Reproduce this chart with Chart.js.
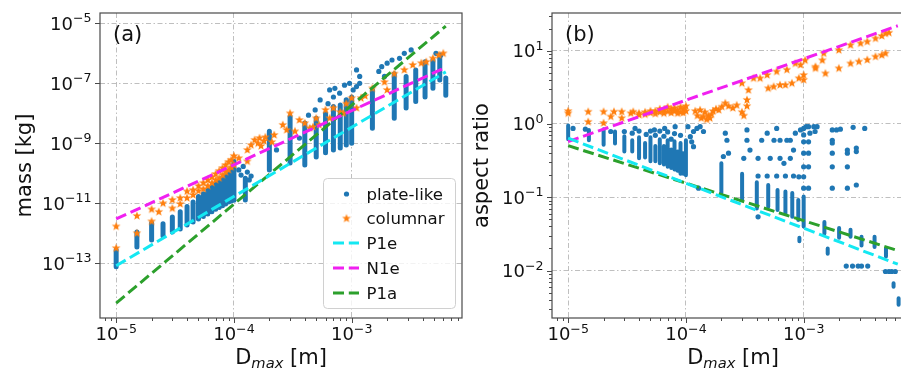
<!DOCTYPE html>
<html>
<head>
<meta charset="utf-8">
<script src="https://cdn.jsdelivr.net/npm/chart.js@4.4.1/dist/chart.umd.min.js"></script>
<style>
html, body { margin: 0; padding: 0; background: #fff; overflow: hidden; width: 901px; height: 369px; }
#wrapA { position: absolute; left: 0; top: 0; width: 470px; height: 369px; }
#wrapB { position: absolute; left: 470px; top: 0; width: 460px; height: 369px; }
</style>
</head>
<body>
<div id="wrapA"><canvas id="chartA" width="470" height="369"></canvas></div>
<div id="wrapB"><canvas id="chartB" width="460" height="369"></canvas></div>
<script>
// ---- data ----
// axis ranges (m) and tick exponents
const dRange = [7.29e-6, 8.65e-3];
const massRange = [1.5e-15, 2.21e-5];
const arRange = [2.25e-3, 32.7];
const dTickExp = [-5, -4, -3];
const massTickExp = [-13, -11, -9, -7, -5];
const arTickExp = [-2, -1, 0, 1];

// fitted relations, drawn between two end points
const lineD = [1e-5, 6.3e-3];
const p1eMass = [8.3e-14, 2.4e-7];
const n1eMass = [3.0e-12, 3.4e-7];
const p1aMass = [4.7e-15, 8.1e-6];
const p1eAR = [0.64, 0.0122];
const n1eAR = [0.575, 21.9];
const p1aAR = [0.506, 0.0187];

// plate-like, panel (a): [D, mass low, mass high] for the dense columns
const plateColsA = [
  [1e-5, 7.6e-14, 2.8e-13], [1.5e-5, 3.5e-13, 1.1e-12], [2e-5, 6.0e-13, 2.2e-12], [2.5e-5, 8.1e-13, 2.1e-12],
  [3e-5, 1.1e-12, 3.5e-12], [3.5e-5, 1.4e-12, 5.2e-12], [4e-5, 1.9e-12, 7.8e-12], [4.5e-5, 2.4e-12, 1.1e-11],
  [5e-5, 3.0e-12, 1.7e-11], [5.5e-5, 3.6e-12, 2.1e-11], [6e-5, 4.4e-12, 2.8e-11], [6.5e-5, 5.2e-12, 3.5e-11],
  [7e-5, 6.3e-12, 4.5e-11], [7.5e-5, 7.2e-12, 5.6e-11], [8e-5, 8.3e-12, 7.1e-11], [8.5e-5, 9.5e-12, 8.9e-11],
  [9e-5, 1.1e-11, 1.1e-10], [9.5e-5, 1.2e-11, 1.4e-10], [1e-4, 1.26e-11, 2.5e-10], [1.25e-4, 1.3e-11, 6.9e-11],
  [2e-4, 1.3e-10, 2.5e-9], [3e-4, 2.2e-10, 7.8e-9], [4e-4, 1.9e-10, 4.8e-9], [5e-4, 3.5e-10, 6.9e-9],
  [6e-4, 4.8e-10, 1.0e-8], [7e-4, 6.0e-10, 1.7e-8], [8e-4, 7.0e-10, 1.9e-8], [9e-4, 8.7e-10, 2.5e-8],
  [1e-3, 1.0e-9, 3.5e-8], [1.5e-3, 3.2e-9, 6.0e-8], [2.3e-3, 6.8e-9, 2.1e-7], [2.9e-3, 1.5e-8, 1.7e-7],
  [3.5e-3, 2.5e-8, 2.8e-7], [4.2e-3, 3.5e-8, 5.2e-7], [4.9e-3, 6.8e-8, 6.0e-7], [5.6e-3, 1.3e-7, 8.7e-7],
  [6.3e-3, 4.0e-8, 1.5e-7]
];
// plate-like, panel (a): single particles [D, mass]
const plateDotsA = [
  [1.1e-4, 1.3e-10], [1.15e-4, 8.7e-11], [1.2e-4, 1.7e-10], [1.3e-4, 1.1e-10], [1.35e-4, 6.0e-11], [1.4e-4, 8.1e-11],
  [2.3e-4, 6.0e-10], [3.6e-4, 1.5e-9], [4.3e-4, 8.7e-9], [4.9e-4, 1.3e-8], [5.4e-4, 2.8e-8], [6.5e-4, 6.0e-8],
  [7.2e-4, 6.8e-8], [7.9e-4, 4.7e-8], [8.7e-4, 8.7e-8], [9.6e-4, 1.0e-7], [1.03e-3, 6.0e-8], [1.1e-3, 7.8e-8],
  [1.17e-3, 1.0e-7], [9.0e-4, 2.8e-8], [6.3e-4, 2.1e-8], [7.0e-4, 3.5e-8], [1.1e-3, 2.8e-7], [1.17e-3, 1.7e-7],
  [1.7e-3, 2.5e-7], [1.8e-3, 3.6e-7], [2.0e-3, 4.7e-7], [2.2e-3, 6.0e-7], [2.55e-3, 6.8e-7], [2.8e-3, 1.0e-6],
  [3.2e-3, 1.3e-6], [1.9e-3, 1.7e-7], [5.2e-3, 1.0e-6], [5.7e-3, 8.7e-7]
];
// columnar, panel (a): [D, mass]
const columnarA = [
  [1e-5, 1.7e-12], [1e-5, 3.2e-13], [1.5e-5, 3.8e-12], [1.5e-5, 1.0e-12], [2e-5, 6.3e-12], [2e-5, 2.5e-12],
  [2.3e-5, 5.2e-12], [2.5e-5, 1.0e-11], [3e-5, 6.8e-12], [3e-5, 1.3e-11], [3.5e-5, 1.5e-11], [3.5e-5, 9.5e-12],
  [4e-5, 2.5e-11], [4e-5, 1.5e-11], [4.5e-5, 2.8e-11], [4.5e-5, 1.9e-11], [5e-5, 3.8e-11], [5e-5, 2.6e-11],
  [5.5e-5, 4.8e-11], [5.5e-5, 3.0e-11], [6e-5, 6.0e-11], [6e-5, 3.8e-11], [6.5e-5, 7.6e-11], [6.5e-5, 4.8e-11],
  [7e-5, 9.5e-11], [7e-5, 6.0e-11], [7.5e-5, 1.2e-10], [7.5e-5, 6.9e-11], [8e-5, 1.5e-10], [8e-5, 8.7e-11],
  [8.5e-5, 1.9e-10], [8.5e-5, 1.1e-10], [9e-5, 2.4e-10], [9e-5, 1.3e-10], [9.5e-5, 2.8e-10], [9.5e-5, 1.6e-10],
  [1e-4, 3.8e-10], [1e-4, 1.9e-10], [1.1e-4, 3.2e-10], [1.3e-4, 2.5e-10], [1.3e-4, 6.0e-10], [1.4e-4, 8.7e-10],
  [1.5e-4, 1.3e-9], [1.6e-4, 1.0e-9], [1.65e-4, 1.5e-9], [1.7e-4, 8.1e-10], [1.8e-4, 1.2e-9], [1.85e-4, 1.6e-9],
  [2.1e-4, 1.1e-9], [2.2e-4, 1.9e-9], [2.6e-4, 4.1e-9], [3e-4, 1.0e-8], [2.8e-4, 2.8e-9], [3.3e-4, 2.5e-9],
  [3.6e-4, 6.0e-9], [4e-4, 4.7e-9], [4.4e-4, 3.2e-9], [4.7e-4, 3.5e-9], [5e-4, 6.8e-9], [5.3e-4, 4.1e-9],
  [6e-4, 1.3e-8], [6.5e-4, 6.9e-9], [7e-4, 1.5e-8], [8e-4, 1.1e-8], [8.5e-4, 1.0e-8], [9e-4, 2.1e-8],
  [1e-3, 3.2e-8], [1.1e-3, 1.5e-8], [1.2e-3, 3.2e-8], [1.3e-3, 3.8e-8], [1.5e-3, 6.8e-8], [1.9e-3, 1.1e-7],
  [2e-3, 6.0e-8], [2.3e-3, 2.1e-7], [2.8e-3, 2.8e-7], [3.3e-3, 4.1e-7], [3.9e-3, 4.7e-7], [4.3e-3, 5.2e-7],
  [4.9e-3, 6.8e-7], [5.5e-3, 8.7e-7], [6e-3, 1.0e-6]
];

// plate-like, panel (b): [D, aspect ratio low, high]
const plateColsB = [
  [1e-5, 0.62, 0.95], [1.5e-5, 0.6, 0.83], [2e-5, 0.52, 0.85], [2.5e-5, 0.54, 0.79], [3e-5, 0.42, 0.68],
  [3.5e-5, 0.42, 0.6], [4e-5, 0.34, 0.66], [4.5e-5, 0.35, 0.55], [5e-5, 0.31, 0.66], [5.5e-5, 0.31, 0.5],
  [6e-5, 0.29, 0.62], [6.5e-5, 0.28, 0.5], [7e-5, 0.26, 0.6], [7.5e-5, 0.25, 0.45], [8e-5, 0.24, 0.58],
  [8.5e-5, 0.23, 0.42], [9e-5, 0.21, 0.55], [9.5e-5, 0.21, 0.4], [1e-4, 0.2, 0.6],
  [2e-4, 0.115, 0.29], [3e-4, 0.092, 0.21], [4e-4, 0.07, 0.16], [5e-4, 0.074, 0.147], [6e-4, 0.067, 0.126],
  [7e-4, 0.06, 0.12], [8e-4, 0.054, 0.114], [9e-4, 0.049, 0.092], [1e-3, 0.04, 0.102], [9.2e-4, 0.025, 0.028],
  [1.5e-3, 0.032, 0.046], [1.6e-3, 0.017, 0.02], [2e-3, 0.028, 0.038], [2.5e-3, 0.029, 0.036],
  [3.1e-3, 0.022, 0.029], [4e-3, 0.021, 0.029], [5e-3, 0.0155, 0.02], [5.8e-3, 0.006, 0.0067], [6.4e-3, 0.0034, 0.0042]
];
// plate-like, panel (b): single particles [D, aspect ratio]
const plateDotsB = [
  [1.1e-5, 0.87], [1.4e-5, 0.85], [2.3e-5, 0.79], [3e-5, 0.79], [3.5e-5, 0.75], [3.7e-5, 0.87], [4e-5, 0.8],
  [4.6e-5, 0.72], [5e-5, 0.8], [5.4e-5, 0.83], [5.5e-5, 0.7], [6e-5, 0.8], [6.6e-5, 0.87], [6.5e-5, 0.68],
  [7e-5, 0.78], [7.5e-5, 0.62], [8e-5, 0.74], [8.1e-5, 0.92], [9e-5, 0.7], [1.04e-4, 0.92],
  [1.09e-4, 0.67], [1.12e-4, 0.57], [1.16e-4, 0.79], [1.16e-4, 0.49],
  [1.24e-4, 0.87], [1.32e-4, 0.92], [1.41e-4, 0.79], [1.28e-4, 0.133],
  [2.08e-4, 0.36], [2.16e-4, 0.75], [2.23e-4, 0.6], [2.3e-4, 0.4], [3.1e-4, 0.34], [3.3e-4, 0.6], [3.3e-4, 0.83],
  [3.5e-4, 0.44], [4.1e-4, 0.34], [4.1e-4, 0.195], [4.1e-4, 0.054], [4.4e-4, 0.6], [4.9e-4, 0.75], [4.9e-4, 0.195],
  [5.2e-4, 0.34], [5.6e-4, 0.6], [5.9e-4, 0.195], [5.9e-4, 0.87], [6.3e-4, 0.6], [6.3e-4, 0.34], [6.8e-4, 0.29],
  [7.0e-4, 0.195], [7.2e-4, 0.6], [7.7e-4, 0.6], [7.7e-4, 0.34], [8.2e-4, 0.44], [8.2e-4, 0.195], [8.5e-4, 0.75],
  [9.4e-4, 0.83], [9.1e-4, 0.19],
  [1e-3, 0.87], [1e-3, 0.71], [1e-3, 0.57], [1e-3, 0.4], [1e-3, 0.26], [1e-3, 0.19], [1e-3, 0.133], [1.05e-3, 0.92],
  [1.1e-3, 0.92], [1.22e-3, 0.92], [1.3e-3, 0.92], [1.13e-3, 0.75], [1.25e-3, 0.79], [1.1e-3, 0.57], [1.1e-3, 0.4],
  [1.1e-3, 0.26], [1.1e-3, 0.133], [1.75e-3, 0.83], [1.75e-3, 0.6], [1.75e-3, 0.55], [1.75e-3, 0.4],
  [1.75e-3, 0.26], [1.75e-3, 0.133], [1.9e-3, 0.83], [2.05e-3, 0.85], [2.35e-3, 0.44], [2.35e-3, 0.4],
  [2.35e-3, 0.26], [2.35e-3, 0.133], [2.63e-3, 0.9], [3.3e-3, 0.87], [2.8e-3, 0.47], [2.8e-3, 0.42], [2.8e-3, 0.147],
  [2.3e-3, 0.0115], [2.6e-3, 0.0115], [2.9e-3, 0.0115], [3.1e-3, 0.0115], [3.5e-3, 0.0115],
  [4.95e-3, 0.0097], [5.3e-3, 0.0097], [5.6e-3, 0.0097], [6.0e-3, 0.0097]
];
// columnar, panel (b): [D, aspect ratio]
const columnarB = [
  [1e-5, 1.4], [1e-5, 1.5], [1.48e-5, 1.47], [1.48e-5, 1.07], [2e-5, 1.47], [2e-5, 1.03], [2.3e-5, 1.26],
  [2.45e-5, 1.47], [2.85e-5, 1.47], [2.85e-5, 1.2], [3.4e-5, 1.4], [3.57e-5, 1.47], [4e-5, 1.4], [4e-5, 1.33],
  [4.5e-5, 1.45], [4.5e-5, 1.35], [5e-5, 1.42], [5e-5, 1.5], [5.5e-5, 1.5], [5.5e-5, 1.38], [6e-5, 1.45],
  [6e-5, 1.6], [6.5e-5, 1.55], [6.5e-5, 1.4], [7e-5, 1.48], [7e-5, 1.7], [7.5e-5, 1.6], [7.5e-5, 1.42],
  [8e-5, 1.5], [8e-5, 1.65], [8.5e-5, 1.55], [8.5e-5, 1.4], [9e-5, 1.45], [9e-5, 1.7], [9.5e-5, 1.6],
  [9.5e-5, 1.42], [1e-4, 1.5], [1e-4, 1.75],
  [1.2e-4, 1.5], [1.25e-4, 1.3], [1.32e-4, 1.55], [1.35e-4, 1.2], [1.41e-4, 1.26], [1.45e-4, 1.45], [1.5e-4, 1.15],
  [1.55e-4, 1.3], [1.6e-4, 1.2], [1.65e-4, 1.35], [1.7e-4, 1.5], [1.8e-4, 1.6], [1.9e-4, 1.55], [2.02e-4, 1.72],
  [2.16e-4, 1.92], [2.3e-4, 1.75], [2.5e-4, 1.65], [2.7e-4, 1.8], [2.99e-4, 1.45], [3.1e-4, 1.3], [3.3e-4, 2.13],
  [3.3e-4, 1.75], [3.4e-4, 2.9], [2.99e-4, 3.6], [3.75e-4, 4.2], [4.27e-4, 4.2], [4.9e-4, 4.66], [5.0e-4, 3.07],
  [5.56e-4, 3.23], [5.9e-4, 5.2], [6.3e-4, 3.4], [7.0e-4, 3.4], [7.2e-4, 5.5], [7.95e-4, 3.6], [8.5e-4, 6.7],
  [9.1e-4, 4.2], [1e-3, 4.66], [1e-3, 4.0], [9.4e-4, 6.4], [1.03e-3, 7.4],
  [1.26e-3, 6.05], [1.44e-3, 7.4], [1.48e-3, 9.2], [1.99e-3, 10.2], [2.5e-3, 11.9], [3.04e-3, 12.6],
  [3.47e-3, 13.3], [4.07e-3, 14.7], [4.6e-3, 15.9], [4.95e-3, 17.2], [5.3e-3, 17.6],
  [1.26e-3, 5.75], [1.53e-3, 4.9], [1.99e-3, 5.75], [2.5e-3, 6.7], [2.94e-3, 7.1], [3.47e-3, 7.5],
  [4.07e-3, 8.3], [4.6e-3, 8.7], [4.95e-3, 9.2]
];

// ---- styling ----
const BLUE = '#1f77b4', ORANGE = '#ff7f0e', CYAN = '#14e8f2', MAGENTA = '#f020f0', GREEN = '#2ca02c';
const EDGE = '#4a4a4a', GRID = '#b8b8b8', INK = '#111';
const FONT = 'DejaVu Sans';

function makeStar(color, r) {
  const c = document.createElement('canvas');
  const s = Math.ceil(r * 2) + 2;
  c.width = c.height = s;
  const g = c.getContext('2d');
  g.fillStyle = color;
  g.beginPath();
  for (let i = 0; i < 10; i++) {
    const rad = i % 2 ? r * 0.42 : r;
    const ang = -Math.PI / 2 + i * Math.PI / 5;
    g.lineTo(s / 2 + rad * Math.cos(ang), s / 2 + rad * Math.sin(ang));
  }
  g.closePath();
  g.fill();
  return c;
}
const STAR = makeStar(ORANGE, 4.6);

function colsToLine(cols) {
  const out = [];
  cols.forEach(([d, lo, hi]) => out.push({x: d, y: lo}, {x: d, y: hi}, {x: d, y: null}));
  return out;
}
function pts(list) { return list.map(([x, y]) => ({x, y})); }
function seg(ys) { return [{x: lineD[0], y: ys[0]}, {x: lineD[1], y: ys[1]}]; }

function minorValues(min, max) {
  const out = [];
  for (let e = Math.floor(Math.log10(min)); e <= Math.ceil(Math.log10(max)); e++) {
    for (let k = 2; k <= 9; k++) {
      const v = k * Math.pow(10, e);
      if (v >= min && v <= max) out.push(v);
    }
  }
  return out;
}

function drawPow(ctx, exp, x, base, align) {
  ctx.textAlign = 'left';
  ctx.font = '18px ' + FONT;
  const w1 = ctx.measureText('10').width;
  const es = exp < 0 ? '\u2212' + (-exp) : String(exp);
  ctx.font = '12.6px ' + FONT;
  const w2 = ctx.measureText(es).width;
  const x0 = align === 'center' ? x - (w1 + w2) / 2 : x - (w1 + w2);
  ctx.font = '18px ' + FONT;
  ctx.fillText('10', x0, base);
  ctx.font = '12.6px ' + FONT;
  ctx.fillText(es, x0 + w1, base - 7.5);
}

const decor = {
  id: 'decor',
  afterDraw(chart, args, o) {
    const ctx = chart.ctx, ca = chart.chartArea, xs = chart.scales.x, ys = chart.scales.y;
    ctx.save();
    ctx.strokeStyle = EDGE;
    ctx.lineWidth = 1;
    ctx.beginPath();
    // minor ticks
    minorValues(xs.min, xs.max).forEach(v => {
      const p = Math.round(xs.getPixelForValue(v)) + 0.5;
      ctx.moveTo(p, ca.bottom); ctx.lineTo(p, ca.bottom + 3);
    });
    if (o.yMinor) {
      minorValues(ys.min, ys.max).forEach(v => {
        const p = Math.round(ys.getPixelForValue(v)) + 0.5;
        ctx.moveTo(ca.left, p); ctx.lineTo(ca.left - 3, p);
      });
    }
    // major ticks
    o.xExp.forEach(e => {
      const p = Math.round(xs.getPixelForValue(Math.pow(10, e))) + 0.5;
      ctx.moveTo(p, ca.bottom); ctx.lineTo(p, ca.bottom + 5);
    });
    o.yExp.forEach(e => {
      const p = Math.round(ys.getPixelForValue(Math.pow(10, e))) + 0.5;
      ctx.moveTo(ca.left, p); ctx.lineTo(ca.left - 5, p);
    });
    ctx.stroke();
    // frame
    ctx.lineWidth = 1.2;
    ctx.strokeRect(ca.left, ca.top, ca.right - ca.left, ca.bottom - ca.top);

    // tick labels
    ctx.fillStyle = INK;
    o.xExp.forEach(e => drawPow(ctx, e, xs.getPixelForValue(Math.pow(10, e)), ca.bottom + 22, 'center'));
    o.yExp.forEach(e => drawPow(ctx, e, ca.left - 8.5, ys.getPixelForValue(Math.pow(10, e)) + 6.5, 'right'));

    // x axis label: D_max [m]
    const cx = (ca.left + ca.right) / 2, base = ca.bottom + 46;
    ctx.font = '21px ' + FONT;
    const wD = ctx.measureText('D').width, wR = ctx.measureText(' [m]').width;
    ctx.font = 'italic 14.7px ' + FONT;
    const wS = ctx.measureText('max').width;
    let x = cx - (wD + wS + wR) / 2;
    ctx.textAlign = 'left';
    ctx.font = '21px ' + FONT; ctx.fillText('D', x, base); x += wD;
    ctx.font = 'italic 14.7px ' + FONT; ctx.fillText('max', x, base + 3.5); x += wS;
    ctx.font = '21px ' + FONT; ctx.fillText(' [m]', x, base);

    // y axis label
    ctx.save();
    ctx.translate(ca.left + o.yLabelDx, (ca.top + ca.bottom) / 2);
    ctx.rotate(-Math.PI / 2);
    ctx.textAlign = 'center';
    ctx.font = '21px ' + FONT;
    ctx.fillText(o.yLabel, 0, 0);
    ctx.restore();

    // panel tag
    ctx.textAlign = 'left';
    ctx.font = '21px ' + FONT;
    ctx.fillText(o.tag, ca.left + 13, ca.top + 28);

    if (o.legend) {
      const bx = 323.5, by = 178.5, bw = 132, bh = 130;
      ctx.beginPath();
      ctx.roundRect(bx, by, bw, bh, 4);
      ctx.fillStyle = 'rgba(255,255,255,0.8)';
      ctx.fill();
      ctx.strokeStyle = '#d0d0d0';
      ctx.lineWidth = 1;
      ctx.stroke();
      const rows = [194, 218.5, 243, 268, 293];
      const names = ['plate-like', 'columnar', 'P1e', 'N1e', 'P1a'];
      ctx.fillStyle = BLUE;
      ctx.beginPath(); ctx.arc(346.5, rows[0], 2.6, 0, Math.PI * 2); ctx.fill();
      ctx.drawImage(STAR, 346.5 - STAR.width / 2, rows[1] - STAR.height / 2);
      [CYAN, MAGENTA, GREEN].forEach((c, i) => {
        ctx.strokeStyle = c; ctx.lineWidth = 3; ctx.setLineDash([11, 4.8]);
        ctx.beginPath(); ctx.moveTo(333, rows[i + 2]); ctx.lineTo(359, rows[i + 2]); ctx.stroke();
      });
      ctx.setLineDash([]);
      ctx.fillStyle = INK;
      ctx.font = '16.6px ' + FONT;
      names.forEach((n, i) => ctx.fillText(n, 366.5, rows[i] + 5.5));
    }
    ctx.restore();
  }
};

function logAxis(range, exps, horizontal) {
  return {
    type: 'logarithmic',
    min: range[0], max: range[1],
    afterBuildTicks: s => { s.ticks = exps.map(e => ({value: Math.pow(10, e)})); },
    afterFit: s => { if (horizontal) s.height = 0; else s.width = 0; },
    ticks: {display: false},
    grid: {color: GRID, lineWidth: 0.9, drawTicks: false},
    border: {display: false, dash: [5, 2.5, 1.5, 2.5]}
  };
}

function makeChart(id, pad, cols, colWidth, dots, stars, lines, yRange, yExp, decorOpts) {
  const datasets = [
    ...lines.map(l => ({data: l.data, showLine: true, borderColor: l.color, borderWidth: 3,
      borderDash: [11, 4.8], pointRadius: 0, order: 0})),
    {data: pts(stars), pointStyle: STAR, order: 1},
    {data: pts(dots), pointRadius: 2.6, backgroundColor: BLUE, borderWidth: 0, order: 2},
    {data: colsToLine(cols), showLine: true, spanGaps: false, borderColor: BLUE, borderWidth: colWidth,
      borderCapStyle: 'round', pointRadius: 0, order: 3}
  ];
  return new Chart(document.getElementById(id), {
    type: 'scatter',
    data: {datasets},
    options: {
      responsive: false,
      animation: false,
      events: [],
      layout: {padding: pad},
      plugins: {legend: {display: false}, tooltip: {enabled: false}, decor: decorOpts},
      scales: {
        x: logAxis(dRange, dTickExp, true),
        y: logAxis(yRange, yExp, false)
      }
    },
    plugins: [decor]
  });
}

makeChart('chartA', {left: 100, top: 13, right: 8, bottom: 51},
  plateColsA, 5, plateDotsA, columnarA,
  [{data: seg(p1eMass), color: CYAN}, {data: seg(n1eMass), color: MAGENTA}, {data: seg(p1aMass), color: GREEN}],
  massRange, massTickExp,
  {xExp: dTickExp, yExp: massTickExp, yMinor: false, yLabel: 'mass [kg]', yLabelDx: -69, tag: '(a)', legend: true});

makeChart('chartB', {left: 82, top: 13, right: 16, bottom: 51},
  plateColsB, 4, plateDotsB, columnarB,
  [{data: seg(p1eAR), color: CYAN}, {data: seg(n1eAR), color: MAGENTA}, {data: seg(p1aAR), color: GREEN}],
  arRange, arTickExp,
  {xExp: dTickExp, yExp: arTickExp, yMinor: true, yLabel: 'aspect ratio', yLabelDx: -64, tag: '(b)', legend: false});
</script>
</body>
</html>
